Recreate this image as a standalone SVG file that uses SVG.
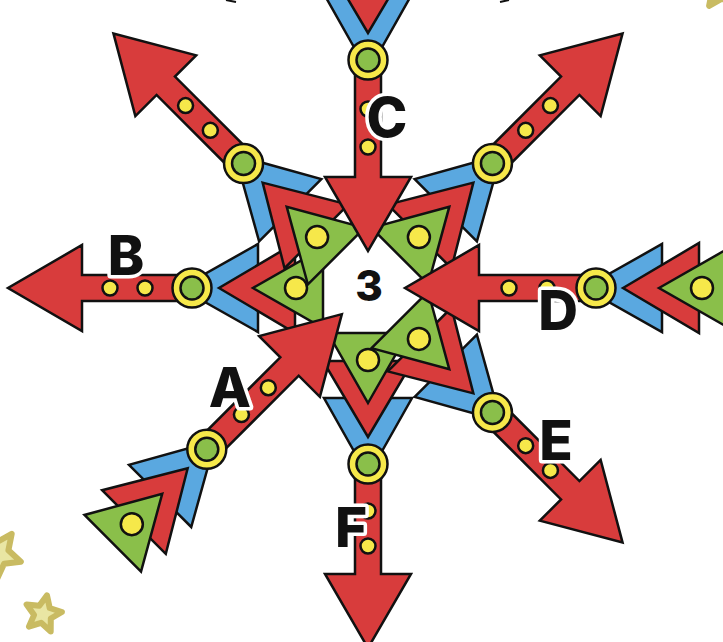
<svg xmlns="http://www.w3.org/2000/svg" width="723" height="642" viewBox="0 0 723 642">
<style>
.k{stroke:#111;stroke-width:2.5;stroke-linejoin:miter}
.r{fill:#d83c3c}.b{fill:#5aa8e0}.g{fill:#8abf4a}.y{fill:#f6e84a}
.st{fill:#e9e6a3;stroke:#c9bb62;stroke-width:6;stroke-linejoin:round}
.lb{font-family:Inter,Lato,"Liberation Sans",sans-serif;font-weight:800;font-size:55px;text-anchor:middle;fill:#111;stroke:#fff;stroke-width:7;paint-order:stroke;stroke-linejoin:round}
.num{font-family:Inter,Lato,"Liberation Sans",sans-serif;font-weight:800;font-size:42px;text-anchor:middle;fill:#111}
</style>
<defs>
<g id="fo">
<polygon class="k b" points="188,0 110,-44 110,44"/>
<polygon class="k r" points="149,0 73,-45 73,45"/>
<polygon class="k g" points="115,0 45,-40 45,40"/>
<circle class="k y" cx="72" cy="0" r="11"/>
</g>
<g id="bo">
<polygon class="k r" points="176,-13 286,-13 286,-43 360,0 286,43 286,13 176,13"/>
<circle class="k y" cx="176" cy="0" r="19.5"/>
<circle class="k g" cx="176" cy="0" r="11.5"/>
<circle class="k y" cx="223" cy="0" r="7.5"/>
<circle class="k y" cx="258" cy="0" r="7.5"/>
</g>
<g id="fi">
<polygon class="k b" points="216,0 294,-44 294,44"/>
<polygon class="k r" points="255,0 331,-45 331,45"/>
<polygon class="k g" points="291,0 361,-40 361,40"/>
<circle class="k y" cx="334" cy="0" r="11"/>
</g>
<g id="bi">
<polygon class="k r" points="228,-13 111,-13 111,-43 37,0 111,43 111,13 228,13"/>
<circle class="k y" cx="228" cy="0" r="19.5"/>
<circle class="k g" cx="228" cy="0" r="11.5"/>
<circle class="k y" cx="179" cy="0" r="7.5"/>
<circle class="k y" cx="141" cy="0" r="7.5"/>
</g>
</defs>
<rect width="723" height="642" fill="#fff"/>
<g id="stars">
<polygon class="st" points="11.7,533.8 8.4,550.3 20.8,561.7 4.1,563.7 -3,579 -10.1,563.7 -26.8,561.7 -14.4,550.3 -17.7,533.8 -3,542"/>
<polygon class="st" points="47,595.4 49.7,608 61.9,612 50.8,618.5 50.7,631.4 41.1,622.8 28.9,626.7 34.1,614.9 26.6,604.5 39.3,605.8"/>
<polygon class="st" points="722,-34 728.2,-20.5 742.9,-18.8 732,-8.8 734.9,5.8 722,-1.5 709.1,5.8 712,-8.8 701.1,-18.8 715.8,-20.5"/>
</g>
<g id="edge-marks" stroke="#111" stroke-width="2" fill="none">
<path d="M226 0 L236 2"/>
<path d="M500 2 L509 0"/>
</g>
<g id="connectors">
<g id="ray-B" transform="translate(368 288) rotate(180)"><use href="#fo"/><use href="#bo"/></g>
<g id="ray-UL" transform="translate(368 288) rotate(-135)"><use href="#fo"/><use href="#bo"/></g>
<g id="ray-UR" transform="translate(368 288) rotate(-45)"><use href="#fo"/><use href="#bo"/></g>
<g id="ray-F" transform="translate(368 288) rotate(90)"><use href="#fo"/><use href="#bo"/></g>
<g id="ray-E" transform="translate(368 288) rotate(45)"><use href="#fo"/><use href="#bo"/></g>
<g id="ray-C" transform="translate(368 288) rotate(-90)"><use href="#fi"/><use href="#bi"/></g>
<g id="ray-D" transform="translate(368 288)"><use href="#fi"/><use href="#bi"/></g>
<g id="ray-A" transform="translate(368 288) rotate(135)"><use href="#fi"/><use href="#bi"/></g>
</g>
<g id="center"><text class="num" x="369" y="301">3</text></g>
<g id="labels">
<text id="label-A" class="lb" x="230" y="407">A</text>
<text id="label-B" class="lb" x="126" y="275">B</text>
<text id="label-C" class="lb" x="387" y="137">C</text>
<text id="label-D" class="lb" x="558" y="330">D</text>
<text id="label-E" class="lb" x="556" y="460">E</text>
<text id="label-F" class="lb" x="351" y="547">F</text>
</g>
</svg>
